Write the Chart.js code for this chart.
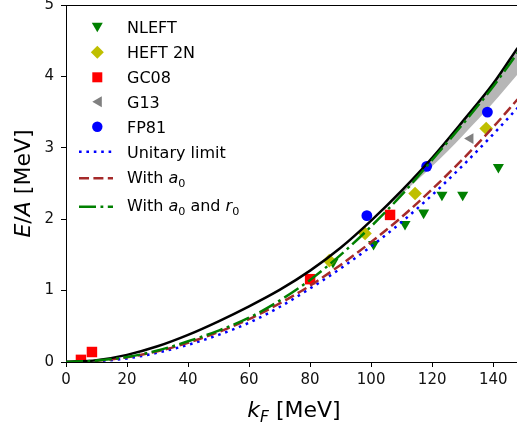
<!DOCTYPE html>
<html>
<head>
<meta charset="utf-8">
<script src="https://cdn.jsdelivr.net/npm/chart.js@4.4.1/dist/chart.umd.min.js"></script>
<style>
  html, body { margin: 0; padding: 0; background: #fff; overflow: hidden; }
  #wrap { width: 517px; height: 428px; }
</style>
</head>
<body>
<div id="wrap"><canvas id="eosChart"></canvas></div>
<script>
// --- DATA ---

// Fermi momentum grid (MeV) for the model curves
const kGrid = [0, 10, 20, 30, 40, 50, 60, 70, 80, 90, 100, 110, 120, 130, 140, 148];
const eaFull = [0, 0.025, 0.10, 0.22, 0.38, 0.57, 0.78, 1.01, 1.28, 1.60, 1.98, 2.40, 2.86, 3.37, 3.90, 4.40];
const eaA0R0 = [0, 0.02, 0.07, 0.16, 0.29, 0.44, 0.62, 0.86, 1.15, 1.50, 1.90, 2.34, 2.83, 3.33, 3.86, 4.33];
const eaA0 = [0, 0.017, 0.067, 0.15, 0.27, 0.42, 0.60, 0.82, 1.07, 1.36, 1.68, 2.03, 2.42, 2.84, 3.29, 3.68];
const eaUnitary = [0, 0.012, 0.05, 0.13, 0.24, 0.38, 0.55, 0.77, 1.03, 1.31, 1.62, 1.96, 2.34, 2.75, 3.19, 3.56];

// uncertainty band around the full curve
const bandK = [100, 110, 120, 130, 140, 148];
const bandHigh = [1.98, 2.40, 2.86, 3.37, 3.90, 4.40];
const bandLow = [1.98, 2.35, 2.74, 3.17, 3.63, 4.03];

// reference calculations
const nleftK = [87.5, 100.8, 111.1, 117.2, 123.2, 130.0, 141.7];
const nleftE = [1.40, 1.65, 1.93, 2.09, 2.34, 2.34, 2.73];
const heftK = [86.3, 98.0, 114.4, 137.7];
const heftE = [1.42, 1.80, 2.36, 3.27];
const gc08K = [4.9, 8.5, 80.0, 106.2];
const gc08E = [0.03, 0.14, 1.16, 2.06];
const g13K = [132.5];
const g13E = [3.13];
const fp81K = [98.6, 118.2, 138.1];
const fp81E = [2.05, 2.74, 3.50];

const xTicks = [0, 20, 40, 60, 80, 100, 120, 140];
const yTicks = [0, 1, 2, 3, 4, 5];

// --- STYLES ---

const FONT = '"DejaVu Sans", "Liberation Sans", sans-serif';
const C_NLEFT = '#008000';
const C_HEFT = '#bfbf00';
const C_GC08 = '#ff0000';
const C_G13 = '#808080';
const C_FP81 = '#0000ff';
const C_A0 = '#a52a2a';
const C_BAND = '#b6b6b6';

const LW = 2.5;
const DASH_UNITARY = [2.6, 4.8];
const DASH_A0 = [10, 4.4];
const DASH_A0R0 = [17, 4.5, 2.8, 4.5];

const pts = (xs, ys) => xs.map((x, i) => ({ x, y: ys[i] }));

function curve(label, ys, color, dash, order) {
    return {
        label, data: pts(kGrid, ys), order,
        borderColor: color, borderWidth: LW,
        borderDash: dash || [], borderCapStyle: 'butt',
        pointRadius: 0, fill: false, cubicInterpolationMode: 'monotone'
    };
}

function markers(label, xs, ys, color, style, radius, rotation, order) {
    return {
        label, data: pts(xs, ys), order, showLine: false,
        pointStyle: style, pointRadius: radius, pointRotation: rotation,
        pointBackgroundColor: color, pointBorderColor: color, pointBorderWidth: 0
    };
}

// --- LEGEND, SPINE AND AXIS TITLES ---

function drawRich(ctx, parts, x, y, size, align) {
    const fontOf = p => `${p.it ? 'italic ' : ''}${p.sub ? size * 0.7 : size}px ${FONT}`;
    let w = 0;
    parts.forEach(p => { ctx.font = fontOf(p); w += ctx.measureText(p.t).width; });
    let cx = align === 'center' ? x - w / 2 : x;
    ctx.textAlign = 'left';
    ctx.textBaseline = 'alphabetic';
    parts.forEach(p => {
        ctx.font = fontOf(p);
        ctx.fillText(p.t, cx, y + (p.sub ? size * 0.24 : 0));
        cx += ctx.measureText(p.t).width;
    });
}

function drawMarker(ctx, shape, color, x, y) {
    ctx.fillStyle = color;
    ctx.beginPath();
    if (shape === 'down') {
        ctx.moveTo(x - 5.5, y - 4.5); ctx.lineTo(x + 5.5, y - 4.5); ctx.lineTo(x, y + 5);
    } else if (shape === 'left') {
        ctx.moveTo(x - 5, y); ctx.lineTo(x + 4.5, y - 5.5); ctx.lineTo(x + 4.5, y + 5.5);
    } else if (shape === 'diamond') {
        ctx.moveTo(x, y - 6.5); ctx.lineTo(x + 6.5, y); ctx.lineTo(x, y + 6.5); ctx.lineTo(x - 6.5, y);
    } else if (shape === 'square') {
        ctx.rect(x - 5, y - 5, 10, 10);
    } else {
        ctx.arc(x, y, 5.2, 0, Math.PI * 2);
    }
    ctx.closePath();
    ctx.fill();
}

const legendRows = [
    { shape: 'down', color: C_NLEFT, hy: 27.3, by: 33, text: [{ t: 'NLEFT' }] },
    { shape: 'diamond', color: C_HEFT, hy: 52.3, by: 58, text: [{ t: 'HEFT 2N' }] },
    { shape: 'square', color: C_GC08, hy: 77.3, by: 83, text: [{ t: 'GC08' }] },
    { shape: 'left', color: C_G13, hy: 101.7, by: 107.5, text: [{ t: 'G13' }] },
    { shape: 'circle', color: C_FP81, hy: 126.7, by: 132.5, text: [{ t: 'FP81' }] },
    { dash: DASH_UNITARY, color: C_FP81, hy: 151.7, by: 157.5, text: [{ t: 'Unitary limit' }] },
    { dash: DASH_A0, color: C_A0, hy: 178.3, by: 182.7, text: [{ t: 'With ' }, { t: 'a', it: true }, { t: '0', sub: true }] },
    { dash: DASH_A0R0, color: C_NLEFT, hy: 206.7, by: 211, text: [{ t: 'With ' }, { t: 'a', it: true }, { t: '0', sub: true }, { t: ' and ' }, { t: 'r', it: true }, { t: '0', sub: true }] }
];

const decorPlugin = {
    id: 'decor',
    afterDraw(chart) {
        const { ctx, chartArea: a } = chart;
        ctx.save();

        // top spine
        ctx.strokeStyle = '#000';
        ctx.lineWidth = 1;
        ctx.beginPath();
        ctx.moveTo(a.left, a.top + 0.5);
        ctx.lineTo(a.right, a.top + 0.5);
        ctx.stroke();

        // legend
        legendRows.forEach(r => {
            if (r.shape) {
                drawMarker(ctx, r.shape, r.color, 97.3, r.hy);
            } else {
                ctx.strokeStyle = r.color;
                ctx.lineWidth = LW;
                ctx.setLineDash(r.dash);
                ctx.beginPath();
                ctx.moveTo(79, r.hy);
                ctx.lineTo(113, r.hy);
                ctx.stroke();
                ctx.setLineDash([]);
            }
            ctx.fillStyle = '#000';
            drawRich(ctx, r.text, 127, r.by, 16, 'left');
        });

        // axis titles
        ctx.fillStyle = '#000';
        drawRich(ctx, [{ t: 'k', it: true }, { t: 'F', it: true, sub: true }, { t: ' [MeV]' }], 294, 416.5, 22, 'center');
        ctx.translate(30, 183.5);
        ctx.rotate(-Math.PI / 2);
        drawRich(ctx, [{ t: 'E', it: true }, { t: '/' }, { t: 'A', it: true }, { t: ' [MeV]' }], 0, 0, 22, 'center');

        ctx.restore();
    }
};

// --- CHART ---

const tickFont = { family: FONT, size: 15 };

new Chart(document.getElementById('eosChart').getContext('2d'), {
    type: 'line',
    data: {
        datasets: [
            curve('With a0 and r0', eaA0R0, C_NLEFT, DASH_A0R0, 1),
            curve('Full', eaFull, '#000000', null, 2),
            curve('With a0', eaA0, C_A0, DASH_A0, 3),
            curve('Unitary limit', eaUnitary, C_FP81, DASH_UNITARY, 4),
            markers('FP81', fp81K, fp81E, C_FP81, 'circle', 5.4, 0, 5),
            markers('G13', g13K, g13E, C_G13, 'triangle', 6.2, -90, 6),
            markers('GC08', gc08K, gc08E, C_GC08, 'rect', 7.4, 0, 7),
            markers('HEFT 2N', heftK, heftE, C_HEFT, 'rectRot', 6.8, 0, 8),
            markers('NLEFT', nleftK, nleftE, C_NLEFT, 'triangle', 6.4, 180, 9),
            {
                label: 'band low', data: pts(bandK, bandLow), order: 20,
                borderWidth: 0, pointRadius: 0, fill: false, cubicInterpolationMode: 'monotone'
            },
            {
                label: 'band high', data: pts(bandK, bandHigh), order: 21,
                borderWidth: 0, pointRadius: 0, fill: '-1', backgroundColor: C_BAND,
                cubicInterpolationMode: 'monotone'
            }
        ]
    },
    options: {
        responsive: true,
        maintainAspectRatio: false,
        animation: false,
        devicePixelRatio: 1,
        layout: { autoPadding: false, padding: { top: 5, right: 0, left: 0, bottom: 0 } },
        plugins: { legend: { display: false }, tooltip: { enabled: false } },
        scales: {
            x: {
                type: 'linear', min: 0, max: 147.8,
                afterBuildTicks: s => { s.ticks = xTicks.map(v => ({ value: v })); },
                afterFit: s => { s.height = 66; s.paddingLeft = 0; s.paddingRight = 0; },
                grid: { drawOnChartArea: false, tickLength: 5, tickColor: '#000', tickWidth: 1 },
                border: { color: '#000', width: 1 },
                ticks: { color: '#111', font: tickFont, padding: 4, maxRotation: 0, autoSkip: false }
            },
            y: {
                type: 'linear', min: 0, max: 5,
                afterBuildTicks: s => { s.ticks = yTicks.map(v => ({ value: v })); },
                afterFit: s => { s.width = 66; s.paddingTop = 0; s.paddingBottom = 0; },
                grid: { drawOnChartArea: false, tickLength: 5, tickColor: '#000', tickWidth: 1 },
                border: { color: '#000', width: 1 },
                ticks: { color: '#111', font: tickFont, padding: 7 }
            }
        }
    },
    plugins: [decorPlugin]
});
</script>
</body>
</html>
